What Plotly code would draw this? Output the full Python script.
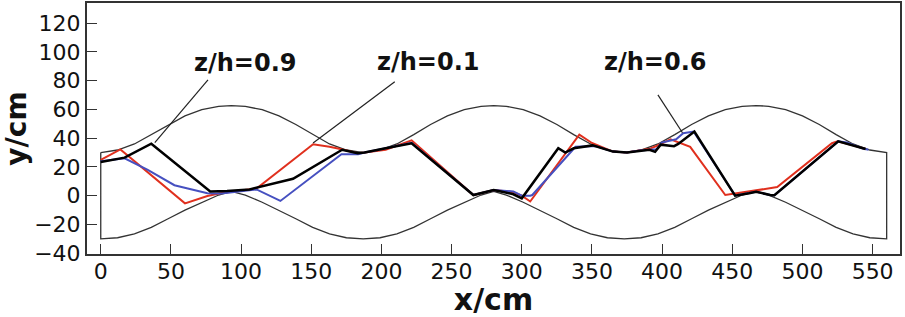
import plotly.graph_objects as go

# ---- channel walls ----
wall_x = [0, 12, 24, 36, 48, 60, 72, 84, 93, 103, 115, 127, 139, 151, 163, 175, 187,
          199, 211, 223, 235, 247, 259, 271, 280, 289, 301, 313, 325, 337, 349, 361, 373,
          385, 397, 409, 421, 433, 445, 457, 467, 476, 488, 500, 512, 524, 536, 548, 560]
upper_y = [30, 31.8, 36, 42.5, 49.5, 55.5, 59.8, 62.2, 62.7, 62.2, 59.8, 55.5, 49.5, 42.5, 36, 31.8, 30,
           31.8, 36, 42.5, 49.5, 55.5, 59.8, 62.2, 62.7, 62.2, 59.8, 55.5, 49.5, 42.5, 36, 31.8, 30,
           31.8, 36, 42.5, 49.5, 55.5, 59.8, 62.2, 62.7, 62.2, 59.8, 55.5, 49.5, 42.5, 36, 31.8, 30]
lower_y = [-30, -29.2, -26.5, -22, -16, -10, -4.5, 0.5, 3, 0.5, -4.5, -10, -16, -22, -26.5, -29.2, -30,
           -29.2, -26.5, -22, -16, -10, -4.5, 0.5, 3, 0.5, -4.5, -10, -16, -22, -26.5, -29.2, -30,
           -29.2, -26.5, -22, -16, -10, -4.5, 0.5, 3, 0.5, -4.5, -10, -16, -22, -26.5, -29.2, -30]

# ---- streamlines ----
black_x = [0, 17, 36, 78, 90, 106, 137, 163, 172, 183, 188, 203, 221.5, 265.5, 280, 286, 294, 300,
           326, 331, 337, 350.5, 365, 375, 384, 391, 395, 399, 408.5, 411.5, 423, 452, 462, 467, 477,
           480, 525.5, 536, 545]
black_y = [23.5, 26.5, 36.2, 3, 3.3, 4.4, 11.8, 27, 32, 29.5, 30, 33, 36.5, 0.5, 4, 2.8, 1, -1.8,
           33, 30, 33, 35, 30.7, 30, 31.4, 32, 30.5, 35.5, 34.5, 36, 44.6, 0, 1.7, 2.8, 0.5,
           0.3, 37.8, 35, 32.5]

red_x = [0, 14, 60, 76, 85, 111, 151.3, 163, 171.5, 183, 188, 203, 221.5, 265.5, 280, 294, 300, 306,
         341, 350, 365, 375, 391, 396, 406, 414, 420, 445, 452.6, 466, 482, 521, 525, 536, 545]
red_y = [25, 32.2, -5.3, -0.2, 1.7, 5, 35.8, 34.1, 32.3, 29.5, 30, 32, 38.5, 0.5, 4, 2.5, 0, -4,
         42.5, 36.7, 30.7, 30, 32.6, 34.6, 39.3, 36, 34, 0.5, 1.7, 3.5, 6, 36.5, 37.8, 35, 32.5]

blue_x = [0, 17, 33.5, 52.5, 62, 76, 86, 111, 128, 171.5, 183.4, 188, 203, 221.5, 265.5, 280, 294,
          300, 306, 307.5, 338.3, 352.6, 365, 375, 384, 391, 396, 399.6, 410, 415, 422.5, 452, 462,
          467, 477, 480, 525.5, 531.5, 542.5, 547]
blue_y = [24, 26, 18, 7.3, 5, 1.7, 1.5, 4.4, -3.6, 28.8, 28.8, 30, 33, 36.8, 0.5, 4, 3,
          0, 0, 0.5, 34, 34.6, 30.7, 30, 31.4, 32, 32.3, 37, 39.3, 43.5, 44.6, 0.2, 1.7,
          2.8, 0.5, 0.3, 37.8, 37, 33, 32]

# ---- labels & leader lines ----
labels = ["z/h=0.9", "z/h=0.1", "z/h=0.6"]
label_x = [102.6, 233, 395]
label_y = [92, 93, 93]
leader_x = [[76.4, 38.5], [209.5, 151.3], [397, 414.5]]
leader_y = [[80.6, 37], [79.2, 36.6], [70.1, 43.8]]

x_ticks = list(range(0, 551, 50))
y_ticks = list(range(-40, 121, 20))

fig = go.Figure()

# wall outline (closed)
fig.add_trace(go.Scatter(
    x=wall_x + [wall_x[-1]] + wall_x[::-1] + [wall_x[0]],
    y=upper_y + [lower_y[-1]] + lower_y[::-1] + [upper_y[0]],
    mode="lines", line=dict(color="#333333", width=1.3), hoverinfo="skip"))

fig.add_trace(go.Scatter(x=red_x, y=red_y, mode="lines",
                         line=dict(color="#e0301e", width=2)))
fig.add_trace(go.Scatter(x=blue_x, y=blue_y, mode="lines",
                         line=dict(color="#4650c0", width=2)))
fig.add_trace(go.Scatter(x=black_x, y=black_y, mode="lines",
                         line=dict(color="#000000", width=2.5)))

for lx, ly in zip(leader_x, leader_y):
    fig.add_trace(go.Scatter(x=lx, y=ly, mode="lines",
                             line=dict(color="#222222", width=1.2)))

for t, x, y in zip(labels, label_x, label_y):
    fig.add_annotation(x=x, y=y, text="<b>%s</b>" % t, showarrow=False,
                       font=dict(family="DejaVu Sans", size=24, color="#111111"))

axis_common = dict(showgrid=False, zeroline=False, showline=True, linecolor="#333333",
                   linewidth=2, mirror=True, ticks="inside", ticklen=10, tickwidth=1.3,
                   tickcolor="#333333", automargin=False,
                   tickfont=dict(family="DejaVu Sans", size=22, color="#111111"))

fig.update_layout(
    width=905, height=317,
    margin=dict(l=87, r=5, t=3, b=63),
    plot_bgcolor="white", paper_bgcolor="white",
    showlegend=False,
    xaxis=dict(range=[-9.8, 569.5], tickvals=x_ticks, ticklabelstandoff=-3,
               title=dict(text="<b>x/cm</b>", standoff=4,
                          font=dict(family="DejaVu Sans", size=30, color="#111111")),
               **axis_common),
    yaxis=dict(range=[-40.5, 134], tickvals=y_ticks,
               title=dict(text="<b>y/cm</b>", standoff=0,
                          font=dict(family="DejaVu Sans", size=28, color="#111111")),
               **axis_common),
)

fig.write_html("out.html", config={"displayModeBar": False},
               post_script="document.body.style.margin='0';document.body.style.padding='0';")
